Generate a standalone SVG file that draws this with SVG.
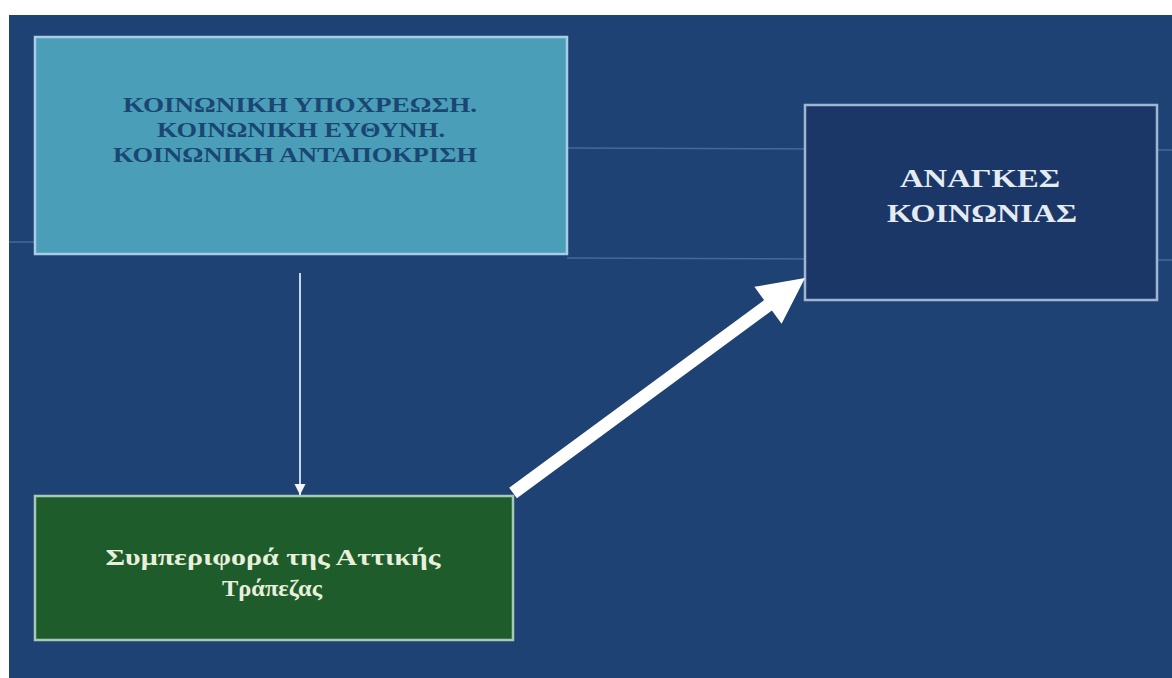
<svg xmlns="http://www.w3.org/2000/svg" width="1172" height="678" viewBox="0 0 1172 678">
  <style>
    .t { font-family: "Liberation Serif", "Times New Roman", serif; font-weight: bold; text-anchor: middle; }
    .teal { fill: #1a4673; font-size: 22px; }
    .navy { fill: #e4ebf2; font-size: 26px; }
    .green { fill: #e8f0dc; font-size: 23px; }
    .box { stroke-width: 2.5; }
    .scan { stroke: #8fb3d6; stroke-width: 1.5; opacity: 0.35; }
  </style>
  <defs>
    <marker id="thinHead" markerWidth="14" markerHeight="14" refX="11" refY="7" orient="auto" markerUnits="userSpaceOnUse">
      <path d="M0,1.5 L11,7 L0,12.5 Z" fill="#f2f6fb"/>
    </marker>
  </defs>
  <rect x="0" y="0" width="1172" height="678" fill="#ffffff"/>
  <rect x="9" y="15" width="1163" height="663" fill="#1f4274"/>

  <g id="scanlines">
    <line class="scan" x1="567" y1="148" x2="1172" y2="150"/>
    <line class="scan" x1="9" y1="242" x2="35" y2="242"/>
    <line class="scan" x1="567" y1="258" x2="1172" y2="260"/>
  </g>

  <g id="node-obligation">
    <rect class="box" x="35" y="37" width="532" height="217" fill="#4b9eb7" stroke="#a9cde6"/>
    <text class="t teal" x="300" y="112" textLength="354" lengthAdjust="spacingAndGlyphs">ΚΟΙΝΩΝΙΚΗ ΥΠΟΧΡΕΩΣΗ.</text>
    <text class="t teal" x="301" y="137" textLength="288" lengthAdjust="spacingAndGlyphs">ΚΟΙΝΩΝΙΚΗ ΕΥΘΥΝΗ.</text>
    <text class="t teal" x="295" y="162" textLength="364" lengthAdjust="spacingAndGlyphs">ΚΟΙΝΩΝΙΚΗ ΑΝΤΑΠΟΚΡΙΣΗ</text>
  </g>

  <g id="node-needs">
    <rect class="box" x="805" y="105" width="352" height="195" fill="#1b3767" stroke="#9fb6d2"/>
    <text class="t navy" x="980" y="187" textLength="160" lengthAdjust="spacingAndGlyphs">ΑΝΑΓΚΕΣ</text>
    <text class="t navy" x="982" y="222" textLength="190" lengthAdjust="spacingAndGlyphs">ΚΟΙΝΩΝΙΑΣ</text>
  </g>

  <g id="node-behaviour">
    <rect class="box" x="35" y="496" width="478" height="144" fill="#1f5c2b" stroke="#a6c9b6"/>
    <text class="t green" x="273" y="565" textLength="335" lengthAdjust="spacingAndGlyphs">Συμπεριφορά της Αττικής</text>
    <text class="t green" x="272" y="596" textLength="100" lengthAdjust="spacingAndGlyphs">Τράπεζας</text>
  </g>

  <g id="connectors">
    <line x1="300" y1="273" x2="300" y2="495" stroke="#c6d6ec" stroke-width="2" marker-end="url(#thinHead)"/>
    <polygon points="516.9,498.2 509.2,487.8 764.1,300.1 754.4,286.8 805,278 781.6,323.8 771.9,310.5" fill="#ffffff"/>
  </g>
</svg>
